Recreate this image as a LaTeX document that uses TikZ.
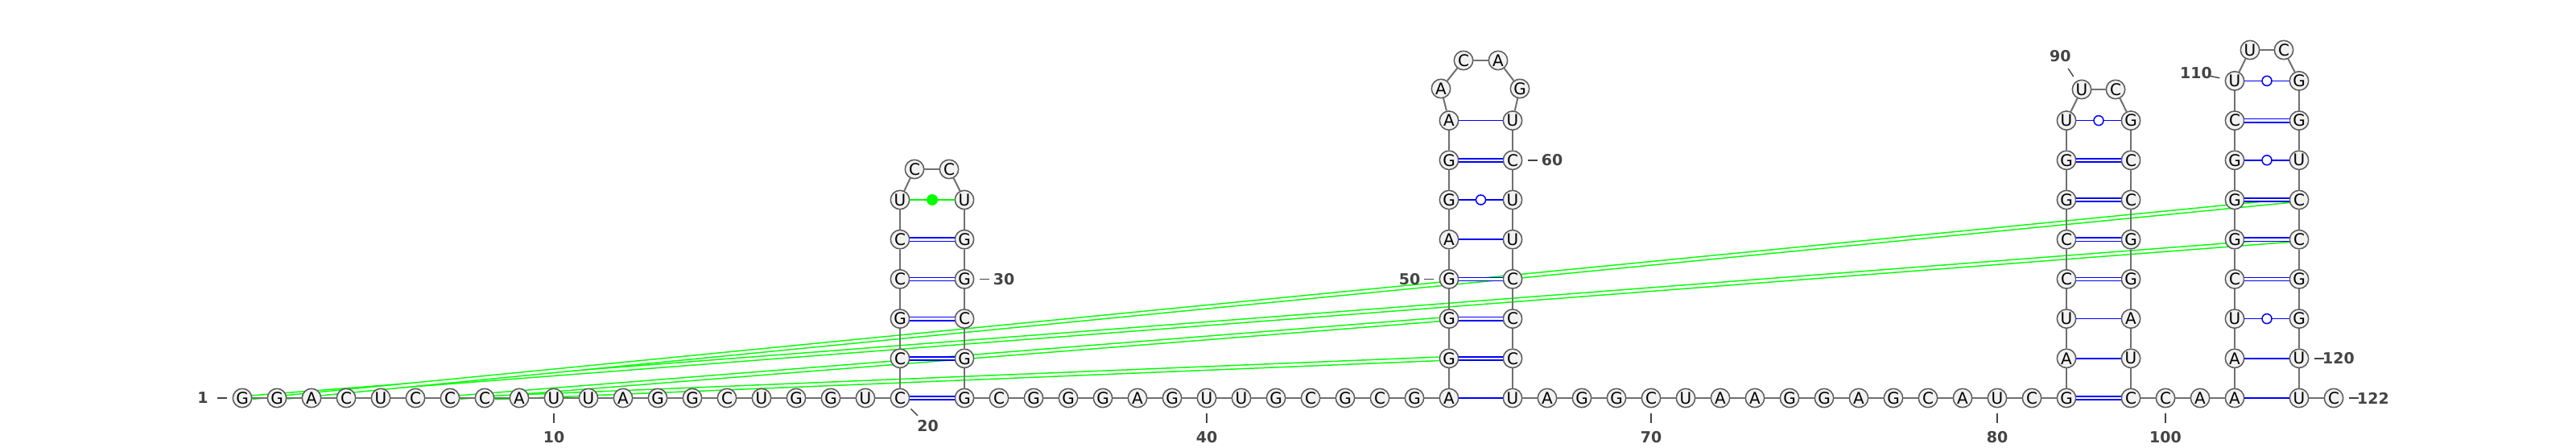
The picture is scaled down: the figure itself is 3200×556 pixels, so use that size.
\documentclass[tikz,border=0pt]{standalone}
\usepackage{fontspec}
\setmainfont{DejaVu Sans}
\usetikzlibrary{backgrounds}
\definecolor{ntfill}{HTML}{F2F2F2}
\definecolor{ntline}{HTML}{5A5A5A}
\definecolor{bbline}{HTML}{707070}
\definecolor{numtext}{HTML}{444444}

\begin{document}
\begin{tikzpicture}[x=0.5pt, y=-0.5pt,
  nt/.style={circle, draw=ntline, fill=ntfill, line width=0.75pt, minimum size=11.7pt, inner sep=0pt, font=\fontsize{10}{12}\selectfont},
  bb/.style={bbline, line width=1pt},
  wc/.style={blue, line width=0.8pt, double=white, double distance=1.3pt},
  au/.style={blue, line width=0.8pt},
  wob/.style={circle, draw=blue, fill=white, line width=0.75pt, minimum size=6pt, inner sep=0pt},
  nc/.style={green, line width=0.8pt},
  ncdot/.style={circle, fill=green, minimum size=7pt, inner sep=0pt},
  pk/.style={green, line width=0.75pt, double=white, double distance=1.5pt},
  tick/.style={numtext, line width=0.7pt},
  num/.style={numtext, font={\fontsize{9.5}{11}\selectfont\bfseries}, inner sep=0pt}]
\useasboundingbox (0,0) rectangle (3200,556);

% 5' strand and first hairpin
\foreach \b [count=\i] in {G,G,A,C,U,C,C,C,A,U,U,A,G,G,C,U,G,G,U,C}
  \node[nt] (n\i) at ({301+43*(\i-1)},494) {\b};
\foreach \b [count=\i from 21] in {C,G,C,C,U}
  \node[nt] (n\i) at (1118,{494-49.2*(\i-20)}) {\b};
\node[nt] (n26) at (1136,210) {C};
\node[nt] (n27) at (1179,210) {C};
\foreach \b [count=\i from 28] in {U,G,G,C,G}
  \node[nt] (n\i) at (1198,{494-49.2*(33-\i)}) {\b};

% second hairpin
\foreach \b [count=\i from 33] in {G,C,G,G,G,A,G,U,U,G,C,G,C,G,A}
  \node[nt] (n\i) at ({1198+43*(\i-33)},494) {\b};
\foreach \b [count=\i from 48] in {G,G,G,A,G,G,A}
  \node[nt] (n\i) at (1800,{494-49.2*(\i-47)}) {\b};
\node[nt] (n55) at (1790,110) {A};
\node[nt] (n56) at (1818,75) {C};
\node[nt] (n57) at (1861,75) {A};
\node[nt] (n58) at (1888,110) {G};
\foreach \b [count=\i from 59] in {U,C,U,U,C,C,C}
  \node[nt] (n\i) at (1879,{494-49.2*(66-\i)}) {\b};

% third hairpin
\foreach \b [count=\i from 66] in {U,A,G,G,C,U,A,A,G,G,A,G,C,A,U,C,G}
  \node[nt] (n\i) at ({1879+43*(\i-66)},494) {\b};
\foreach \b [count=\i from 83] in {A,U,C,C,G,G,U}
  \node[nt] (n\i) at (2567,{494-49.2*(\i-82)}) {\b};
\node[nt] (n90) at (2586,111) {U};
\node[nt] (n91) at (2628,111) {C};
\foreach \b [count=\i from 92] in {G,C,C,G,G,A,U}
  \node[nt] (n\i) at (2647,{494-49.2*(99-\i)}) {\b};

% fourth hairpin and 3' end
\foreach \b [count=\i from 99] in {C,C,A,A}
  \node[nt] (n\i) at ({2647+43*(\i-99)},494) {\b};
\foreach \b [count=\i from 103] in {A,U,C,G,G,G,C,U}
  \node[nt] (n\i) at (2776,{494-49.2*(\i-102)}) {\b};
\node[nt] (n111) at (2795,62) {U};
\node[nt] (n112) at (2837,62) {C};
\foreach \b [count=\i from 113] in {G,G,U,C,C,G,G,U}
  \node[nt] (n\i) at (2856,{494-49.2*(121-\i)}) {\b};
\node[nt] (n121) at (2856,494) {U};
\node[nt] (n122) at (2899,494) {C};

% backbone
\foreach \i [evaluate=\i as \j using int(\i+1)] in {1,...,121}
  \draw[bb] (n\i) -- (n\j);

% base pairs
\foreach \a/\b in {20/33,21/32,22/31,23/30,24/29,48/65,49/64,50/63,53/60,82/99,85/96,86/95,87/94,88/93,105/118,106/117,107/116,109/114}
  \draw[wc] (n\a) -- (n\b);
\foreach \a/\b in {47/66,51/62,54/59,83/98,84/97,102/121,103/120}
  \draw[au] (n\a) -- (n\b);
\foreach \a/\b in {52/61,89/92,104/119,108/115,110/113}
  \draw[au] (n\a) -- (n\b) node[wob, midway] (w\a) {};
\draw[nc] (n25) -- (n28) node[ncdot, midway] (d25) {};

% pseudoknot, behind the bases
\begin{pgfonlayer}{background}
\foreach \a/\b in {1/117,2/116,7/49,8/48}
  \draw[pk] (n\a) -- (n\b);
\end{pgfonlayer}

% numbering
\foreach \i/\a in {1/180,10/90,20/45,30/0,40/90,50/180,60/0,70/90,80/90,90/237,100/90,110/191,120/0,122/0} {
  \draw[tick] ([shift={(\a:19)}]n\i.center) -- ([shift={(\a:31)}]n\i.center);
  \node[num] (l\i) at ([shift={(\a:49)}]n\i.center) {\i};
}
\end{tikzpicture}
\end{document}
